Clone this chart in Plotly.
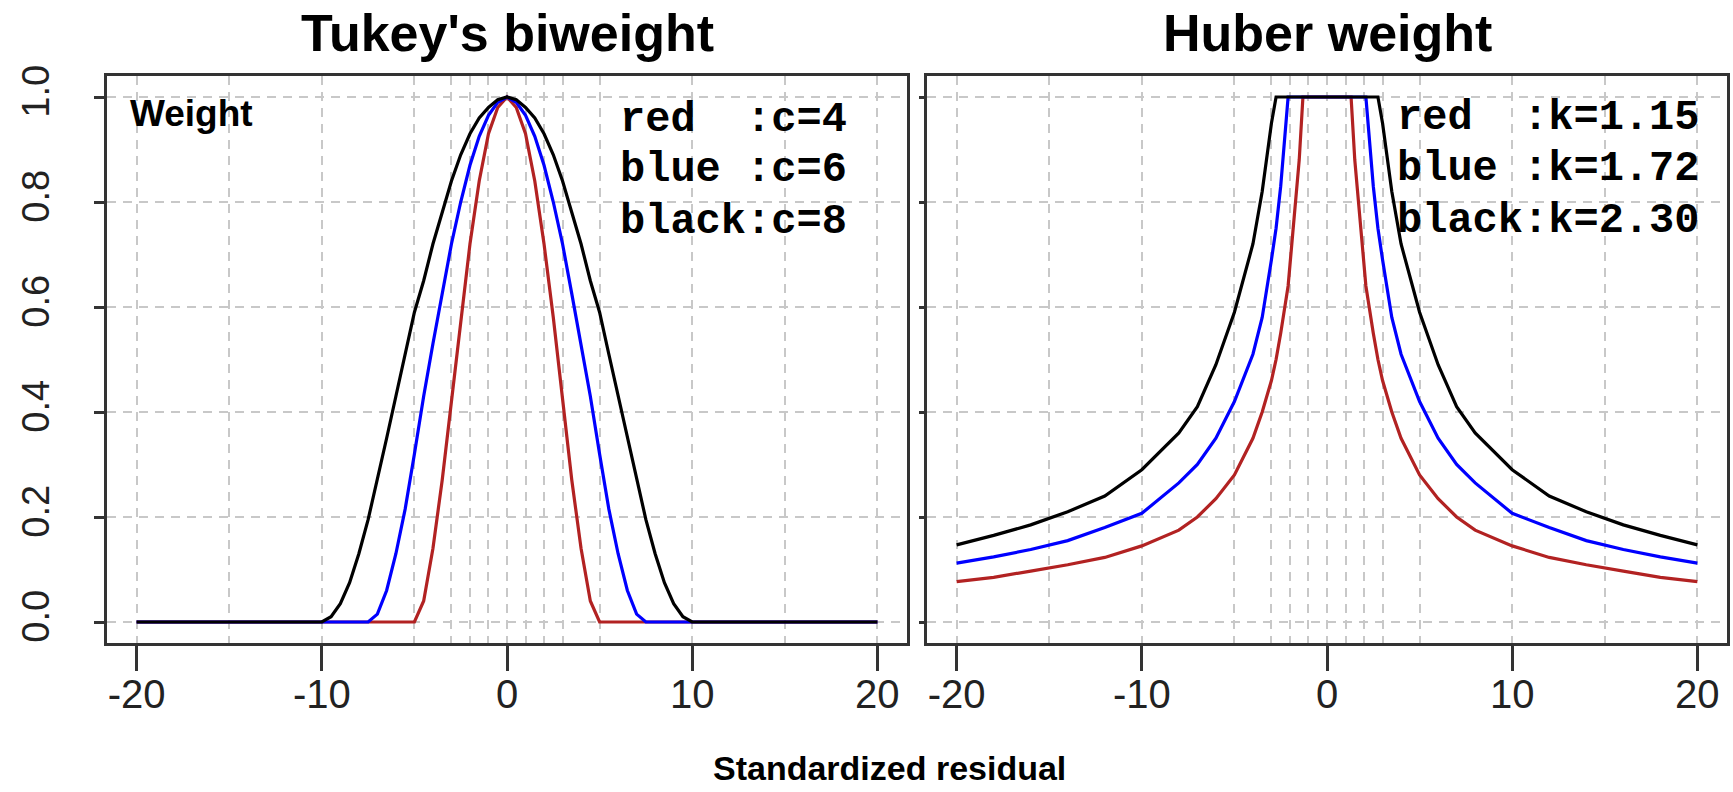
import plotly.graph_objects as go

# ---------------- data ----------------
x_tukey = [-20, -10, -9.5, -9, -8.5, -8, -7.5, -7, -6.5, -6, -5.5, -5, -4.5, -4, -3.5, -3,
           -2.5, -2, -1.5, -1, -0.5, 0, 0.5, 1, 1.5, 2, 2.5, 3, 3.5, 4, 4.5, 5, 5.5, 6,
           6.5, 7, 7.5, 8, 8.5, 9, 9.5, 10, 20]
tukey_red = [0, 0, 0, 0, 0, 0, 0, 0, 0, 0, 0, 0, 0.04, 0.14, 0.27, 0.42,
             0.58, 0.72, 0.84, 0.93, 0.98, 1.0, 0.98, 0.93, 0.84, 0.72, 0.58, 0.42, 0.27, 0.14, 0.04, 0, 0, 0,
             0, 0, 0, 0, 0, 0, 0, 0, 0]
tukey_blue = [0, 0, 0, 0, 0, 0, 0, 0.015, 0.06, 0.13, 0.215, 0.32, 0.43, 0.53, 0.625, 0.72,
              0.80, 0.87, 0.925, 0.965, 0.99, 1.0, 0.99, 0.965, 0.925, 0.87, 0.80, 0.72, 0.625, 0.53, 0.43, 0.32, 0.215, 0.13,
              0.06, 0.015, 0, 0, 0, 0, 0, 0, 0]
tukey_black = [0, 0, 0.01, 0.035, 0.075, 0.13, 0.195, 0.27, 0.35, 0.43, 0.51, 0.59, 0.65, 0.72, 0.78, 0.84,
               0.89, 0.93, 0.96, 0.98, 0.995, 1.0, 0.995, 0.98, 0.96, 0.93, 0.89, 0.84, 0.78, 0.72, 0.65, 0.59, 0.51, 0.43,
               0.35, 0.27, 0.195, 0.13, 0.075, 0.035, 0.01, 0, 0]

x_huber = [-20, -18, -16, -14, -12, -10, -8, -7, -6, -5, -4, -3.5, -3, -2.75, -2.5, -2.1, -2, -1.5, -1.3, 0,
           1.3, 1.5, 2, 2.1, 2.5, 2.75, 3, 3.5, 4, 5, 6, 7, 8, 10, 12, 14, 16, 18, 20]
huber_red = [0.077, 0.085, 0.097, 0.109, 0.123, 0.145, 0.175, 0.20, 0.235, 0.28, 0.35, 0.40, 0.46, 0.50, 0.55, 0.64, 0.68, 0.88, 1.0, 1.0,
             1.0, 0.88, 0.68, 0.64, 0.55, 0.50, 0.46, 0.40, 0.35, 0.28, 0.235, 0.20, 0.175, 0.145, 0.123, 0.109, 0.097, 0.085, 0.077]
huber_blue = [0.112, 0.124, 0.138, 0.155, 0.18, 0.207, 0.265, 0.30, 0.35, 0.42, 0.51, 0.58, 0.69, 0.75, 0.83, 1.0, 1.0, 1.0, 1.0, 1.0,
              1.0, 1.0, 1.0, 1.0, 0.83, 0.75, 0.69, 0.58, 0.51, 0.42, 0.35, 0.30, 0.265, 0.207, 0.18, 0.155, 0.138, 0.124, 0.112]
huber_black = [0.147, 0.165, 0.185, 0.21, 0.24, 0.29, 0.36, 0.41, 0.49, 0.59, 0.72, 0.82, 0.95, 1.0, 1.0, 1.0, 1.0, 1.0, 1.0, 1.0,
               1.0, 1.0, 1.0, 1.0, 1.0, 1.0, 0.95, 0.82, 0.72, 0.59, 0.49, 0.41, 0.36, 0.29, 0.24, 0.21, 0.185, 0.165, 0.147]

panel_titles = ["Tukey's biweight", "Huber weight"]
tukey_legend = ["red\u00a0\u00a0:c=4", "blue\u00a0:c=6", "black:c=8"]
huber_legend = ["red\u00a0\u00a0:k=1.15", "blue\u00a0:k=1.72", "black:k=2.30"]
x_major = [-20, -10, 0, 10, 20]
x_minor = [-15, -5, -3, -2, -1, 1, 2, 3, 5, 15]
y_ticks = [0.0, 0.2, 0.4, 0.6, 0.8, 1.0]
y_ticktext = ["0.0", "0.2", "0.4", "0.6", "0.8", "1.0"]

RED, BLUE, BLACK = "#B22222", "#0000FF", "#000000"
W, H = 1733, 792
SANS = "Liberation Sans, Arial, sans-serif"
MONO = "Liberation Mono, Courier New, monospace"
GRID = "#C8C8C8"
FRAME = "#333333"

fig = go.Figure()
for xs, ys, col in [(x_tukey, tukey_red, RED), (x_tukey, tukey_blue, BLUE), (x_tukey, tukey_black, BLACK)]:
    fig.add_trace(go.Scatter(x=xs, y=ys, mode="lines", line=dict(color=col, width=3.2),
                             xaxis="x", yaxis="y", showlegend=False))
for xs, ys, col in [(x_huber, huber_red, RED), (x_huber, huber_blue, BLUE), (x_huber, huber_black, BLACK)]:
    fig.add_trace(go.Scatter(x=xs, y=ys, mode="lines", line=dict(color=col, width=3.2),
                             xaxis="x2", yaxis="y2", showlegend=False))

ydom = [1 - 643 / H, 1 - 76 / H]

def xaxis(dom, anchor):
    return dict(domain=dom, anchor=anchor, range=[-21.6, 21.6], tickmode="array", tickvals=x_major,
                ticktext=[str(v) for v in x_major], ticks="outside", ticklen=25, tickwidth=2.5,
                tickcolor=FRAME, showline=True, linecolor=FRAME, linewidth=2.8, mirror=True,
                showgrid=True, gridcolor=GRID, gridwidth=2, griddash="9px,7px", zeroline=False,
                automargin=False,
                tickfont=dict(family=SANS, size=40, color="#222"), ticklabelstandoff=-11,
                minor=dict(tickvals=x_minor, showgrid=True, gridcolor=GRID, gridwidth=2,
                           griddash="9px,7px", ticks=""))

def yaxis(anchor, labels):
    return dict(domain=ydom, anchor=anchor, range=[-0.04, 1.04], tickmode="array", tickvals=y_ticks,
                ticktext=y_ticktext, showticklabels=labels, ticks="outside",
                ticklen=10 if labels else 5, tickwidth=2.5, tickcolor=FRAME, tickangle=-90,
                showline=True, linecolor=FRAME, linewidth=2.8, mirror=True, automargin=False,
                showgrid=True, gridcolor=GRID, gridwidth=2, griddash="9px,7px", zeroline=False,
                tickfont=dict(family=SANS, size=38, color="#222"), ticklabelstandoff=30)

fig.update_layout(
    template="none",
    width=W, height=H, margin=dict(l=0, r=0, t=0, b=0, autoexpand=False),
    paper_bgcolor="white", plot_bgcolor="white", showlegend=False,
    xaxis=xaxis([107 / W, 907 / W], "y"),
    yaxis=yaxis("x", True),
    xaxis2=xaxis([927 / W, 1727 / W], "y2"),
    yaxis2=yaxis("x2", False),
)

ann = []
for txt, cx in zip(panel_titles, [507, 1327]):
    ann.append(dict(text="<b>%s</b>" % txt, x=cx / W, y=1 - 33 / H, xref="paper", yref="paper",
                    xanchor="center", yanchor="middle", showarrow=False,
                    font=dict(family=SANS, size=52, color="black")))
ann.append(dict(text="<b>Weight</b>", x=128 / W, y=1 - 113 / H, xref="paper", yref="paper",
                xanchor="left", yanchor="middle", showarrow=False,
                font=dict(family=SANS, size=37, color="black")))
for i, t in enumerate(tukey_legend):
    ann.append(dict(text="<b>%s</b>" % t, x=618 / W, y=1 - [120, 170, 222][i] / H, xref="paper",
                    yref="paper", xanchor="left", yanchor="middle", showarrow=False,
                    font=dict(family=MONO, size=42, color="black")))
for i, t in enumerate(huber_legend):
    ann.append(dict(text="<b>%s</b>" % t, x=1395 / W, y=1 - [118, 169, 221][i] / H, xref="paper",
                    yref="paper", xanchor="left", yanchor="middle", showarrow=False,
                    font=dict(family=MONO, size=42, color="black")))
ann.append(dict(text="<b>Standardized residual</b>", x=890 / W, y=1 - 768 / H, xref="paper",
                yref="paper", xanchor="center", yanchor="middle", showarrow=False,
                font=dict(family=SANS, size=34, color="black")))
fig.update_layout(annotations=ann)

fig.write_html("out.html", config={"displayModeBar": False},
               post_script="document.body.style.margin='0px';document.body.style.overflow='hidden';")
